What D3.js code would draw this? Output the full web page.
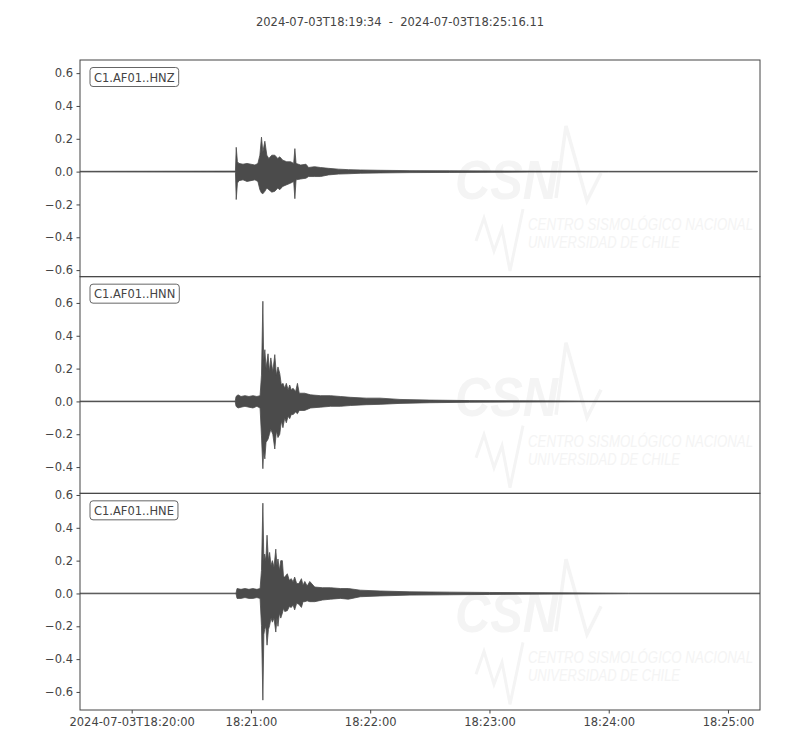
<!DOCTYPE html>
<html>
<head>
<meta charset="utf-8">
<script src="https://cdn.jsdelivr.net/npm/d3@7"></script>
<style>
  body { margin: 0; background: #fff; }
  text { font-family: "DejaVu Sans", sans-serif; fill: #444; }
</style>
</head>
<body>
<div id="chart"></div>
<script>
// trace names and title
var stations = ["C1.AF01..HNZ", "C1.AF01..HNN", "C1.AF01..HNE"];
var title = "2024-07-03T18:19:34  -  2024-07-03T18:25:16.11";

// x axis ticks (minutes) and their labels
var xTickMinutes = [20, 21, 22, 23, 24, 25];
var xTickLabels = ["2024-07-03T18:20:00", "18:21:00", "18:22:00", "18:23:00", "18:24:00", "18:25:00"];
var yTickValues = [-0.6, -0.4, -0.2, 0.0, 0.2, 0.4, 0.6];

// envelope of each trace: seconds after 18:20:00, upper and lower amplitude
var hnzTime = [-26, 52.2, 52.6, 53.2, 54, 56, 58, 60, 62, 63.5, 64.5, 65.3, 66, 67, 68, 69, 70.5, 72, 73.5, 74.5, 76, 78, 80, 81.5, 82.1, 82.7, 85, 87.7, 89, 92, 95, 99, 104, 109, 115, 125, 140, 160, 200, 240, 314.8];
var hnzHigh = [0.002, 0.003, 0.148, 0.06, 0.05, 0.045, 0.05, 0.045, 0.04, 0.05, 0.1, 0.21, 0.12, 0.185, 0.1, 0.08, 0.1, 0.1, 0.08, 0.09, 0.07, 0.06, 0.06, 0.05, 0.14, 0.05, 0.04, 0.045, 0.025, 0.03, 0.025, 0.02, 0.015, 0.012, 0.01, 0.008, 0.006, 0.005, 0.003, 0.002, 0.002];
var hnzLow = [-0.002, -0.003, -0.17, -0.07, -0.055, -0.05, -0.06, -0.055, -0.05, -0.06, -0.11, -0.13, -0.135, -0.12, -0.1, -0.11, -0.125, -0.12, -0.1, -0.11, -0.09, -0.08, -0.07, -0.06, -0.165, -0.05, -0.045, -0.04, -0.03, -0.03, -0.03, -0.02, -0.015, -0.013, -0.01, -0.008, -0.006, -0.005, -0.003, -0.002, -0.002];

var hnnTime = [-26, 52.1, 52.5, 53.5, 55, 57, 59, 61, 63, 64.6, 65.3, 66.0, 66.4, 67, 67.6, 68.6, 69.3, 70, 71, 72, 72.8, 73.6, 74.5, 75.3, 76.1, 77, 77.8, 78.7, 79.5, 80.3, 81.2, 82.5, 83.4, 84.3, 87, 90, 95, 100, 105, 110, 118, 125, 135, 150, 170, 195, 230, 316.2];
var hnnHigh = [0.002, 0.002, 0.03, 0.04, 0.03, 0.035, 0.03, 0.035, 0.03, 0.035, 0.16, 0.61, 0.25, 0.315, 0.2, 0.29, 0.18, 0.265, 0.18, 0.285, 0.16, 0.21, 0.17, 0.1, 0.11, 0.08, 0.11, 0.07, 0.1, 0.07, 0.08, 0.06, 0.11, 0.05, 0.05, 0.04, 0.035, 0.035, 0.03, 0.025, 0.02, 0.02, 0.012, 0.008, 0.005, 0.004, 0.002, 0.002];
var hnnLow = [-0.002, -0.002, -0.03, -0.04, -0.035, -0.03, -0.035, -0.04, -0.03, -0.04, -0.21, -0.41, -0.3, -0.35, -0.25, -0.23, -0.2, -0.17, -0.2, -0.29, -0.18, -0.22, -0.2, -0.12, -0.16, -0.1, -0.13, -0.09, -0.105, -0.08, -0.08, -0.065, -0.075, -0.055, -0.055, -0.04, -0.035, -0.03, -0.03, -0.025, -0.02, -0.018, -0.012, -0.008, -0.005, -0.004, -0.002, -0.002];

var hneTime = [-26, 52.5, 53, 55, 57, 59, 61, 63, 64.6, 65.3, 66.0, 66.5, 66.9, 67.5, 68.1, 68.8, 69.4, 70.1, 70.8, 71.6, 72.5, 73.1, 73.6, 74.3, 75, 75.8, 76.4, 77, 78.3, 79.3, 80.3, 81.2, 82, 83, 84.1, 85.4, 86.2, 87.1, 88.3, 89.6, 92.1, 96, 100, 105, 109, 115, 125, 140, 160, 180, 215, 250, 316.2];
var hneHigh = [0.002, 0.002, 0.03, 0.025, 0.03, 0.025, 0.03, 0.025, 0.03, 0.14, 0.55, 0.2, 0.24, 0.2, 0.355, 0.2, 0.25, 0.17, 0.2, 0.16, 0.27, 0.17, 0.21, 0.14, 0.2, 0.2, 0.1, 0.1, 0.12, 0.08, 0.09, 0.07, 0.1, 0.06, 0.06, 0.09, 0.05, 0.073, 0.045, 0.073, 0.039, 0.035, 0.035, 0.03, 0.03, 0.02, 0.015, 0.01, 0.008, 0.006, 0.004, 0.002, 0.002];
var hneLow = [-0.002, -0.002, -0.03, -0.03, -0.025, -0.03, -0.03, -0.025, -0.03, -0.195, -0.65, -0.25, -0.22, -0.2, -0.315, -0.22, -0.195, -0.15, -0.175, -0.15, -0.235, -0.15, -0.2, -0.12, -0.15, -0.12, -0.09, -0.11, -0.105, -0.08, -0.085, -0.07, -0.1, -0.06, -0.065, -0.085, -0.05, -0.05, -0.045, -0.05, -0.05, -0.04, -0.035, -0.03, -0.035, -0.02, -0.015, -0.01, -0.008, -0.006, -0.004, -0.002, -0.002];

var traces = [
  {time: hnzTime, high: hnzHigh, low: hnzLow},
  {time: hnnTime, high: hnnHigh, low: hnnLow},
  {time: hneTime, high: hneHigh, low: hneLow}
];

var width = 800, height = 750;
var margin = {top: 60, right: 40, bottom: 40, left: 80};
var plotW = width - margin.left - margin.right;
var panelH = (height - margin.top - margin.bottom) / 3;

var base = Date.UTC(2024, 6, 3, 18, 20, 0);
var t0 = new Date(Date.UTC(2024, 6, 3, 18, 19, 34));
var t1 = new Date(Date.UTC(2024, 6, 3, 18, 25, 16, 110));

var svg = d3.select("#chart").append("svg")
  .attr("width", width).attr("height", height);

svg.append("text")
  .attr("x", width / 2).attr("y", 25.5)
  .attr("text-anchor", "middle")
  .style("font-size", "11.5px")
  .style("white-space", "pre")
  .text(title);

var x = d3.scaleUtc().domain([t0, t1]).range([margin.left, margin.left + plotW]);

// same amplitude span for every panel, centred on each trace
var maxSpan = d3.max(traces, function(d) { return d3.max(d.high) - d3.min(d.low); });

var defs = svg.append("defs");
var wmColor = "#f4f4f4";

traces.forEach(function(tr, i) {
  var top = margin.top + i * panelH;
  var center = (d3.max(tr.high) + d3.min(tr.low)) / 2;
  var half = maxSpan * 0.55;
  var y = d3.scaleLinear().domain([center - half, center + half]).range([top + panelH, top]);

  defs.append("clipPath").attr("id", "clip" + i)
    .append("rect").attr("x", margin.left).attr("y", top)
    .attr("width", plotW).attr("height", panelH);

  var g = svg.append("g");

  // faint CSN watermark
  var wm = g.append("g").attr("transform", "translate(0," + top + ")");
  wm.append("text")
    .attr("x", 455).attr("y", 139)
    .attr("textLength", 103).attr("lengthAdjust", "spacingAndGlyphs")
    .style("font-family", "'Liberation Sans', sans-serif")
    .style("font-weight", "bold").style("font-style", "italic")
    .style("font-size", "55px").style("fill", wmColor)
    .text("CSN");
  wm.append("polyline")
    .attr("points", "556,138 566,66 587,141 601,113")
    .attr("fill", "none").attr("stroke", wmColor).attr("stroke-width", 3.5);
  wm.append("polyline")
    .attr("points", "476,181 484,158 494,191 502,169 510,211 523,149")
    .attr("fill", "none").attr("stroke", wmColor).attr("stroke-width", 3);
  wm.append("text")
    .attr("x", 528).attr("y", 170)
    .attr("textLength", 225).attr("lengthAdjust", "spacingAndGlyphs")
    .style("font-family", "'Liberation Sans Narrow', 'Liberation Sans', sans-serif")
    .style("font-style", "italic").style("font-size", "16px").style("fill", wmColor)
    .text("CENTRO SISMOLÓGICO NACIONAL");
  wm.append("text")
    .attr("x", 528).attr("y", 188)
    .attr("textLength", 152).attr("lengthAdjust", "spacingAndGlyphs")
    .style("font-family", "'Liberation Sans Narrow', 'Liberation Sans', sans-serif")
    .style("font-style", "italic").style("font-size", "16px").style("fill", wmColor)
    .text("UNIVERSIDAD DE CHILE");

  var pts = tr.time.map(function(t, k) {
    return {date: new Date(base + t * 1000), hi: tr.high[k], lo: tr.low[k]};
  });

  var area = d3.area()
    .x(function(d) { return x(d.date); })
    .y0(function(d) { return y(d.lo); })
    .y1(function(d) { return y(d.hi); });

  g.append("path")
    .datum(pts)
    .attr("clip-path", "url(#clip" + i + ")")
    .attr("d", area)
    .attr("fill", "#4b4b4b")
    .attr("stroke", "#4b4b4b")
    .attr("stroke-width", 0.8)
    .attr("stroke-linejoin", "round");

  // y axis
  var ticks = yTickValues.filter(function(v) {
    return v >= y.domain()[0] - 1e-9 && v <= y.domain()[1] + 1e-9;
  });
  var yAxis = g.append("g")
    .attr("transform", "translate(" + margin.left + ",0)")
    .call(d3.axisLeft(y).tickValues(ticks).tickFormat(d3.format(".1f")).tickSizeOuter(0).tickSize(3.5).tickPadding(3.5));
  yAxis.select(".domain").remove();
  yAxis.selectAll("line").attr("stroke", "#444");
  yAxis.selectAll("text").style("font-size", "11.5px").attr("fill", "#444").style("font-family", "'DejaVu Sans', sans-serif");

  // frame
  g.append("rect")
    .attr("x", margin.left).attr("y", top)
    .attr("width", plotW).attr("height", panelH)
    .attr("fill", "none").attr("stroke", "#444").attr("stroke-width", 1);

  // station label in a rounded box
  var box = g.append("rect");
  var lab = g.append("text")
    .attr("x", margin.left + 14).attr("y", top + 21.5)
    .style("font-size", "11.5px")
    .text(stations[i]);
  var bb = lab.node().getBBox();
  box.attr("x", bb.x - 4).attr("y", top + 7.5)
    .attr("width", bb.width + 8).attr("height", 19)
    .attr("rx", 3)
    .attr("fill", "#fff").attr("stroke", "#666").attr("stroke-width", 1);
});

// bottom time axis
var xTicks = xTickMinutes.map(function(m) { return new Date(Date.UTC(2024, 6, 3, 18, m, 0)); });
var xAxis = svg.append("g")
  .attr("transform", "translate(0," + (margin.top + 3 * panelH) + ")")
  .call(d3.axisBottom(x).tickValues(xTicks)
    .tickFormat(function(d, i) { return xTickLabels[i]; })
    .tickSizeOuter(0).tickSize(3.5).tickPadding(4));
xAxis.select(".domain").remove();
xAxis.selectAll("line").attr("stroke", "#444");
xAxis.selectAll("text").style("font-size", "11.5px").attr("fill", "#444").style("font-family", "'DejaVu Sans', sans-serif");
</script>
</body>
</html>
